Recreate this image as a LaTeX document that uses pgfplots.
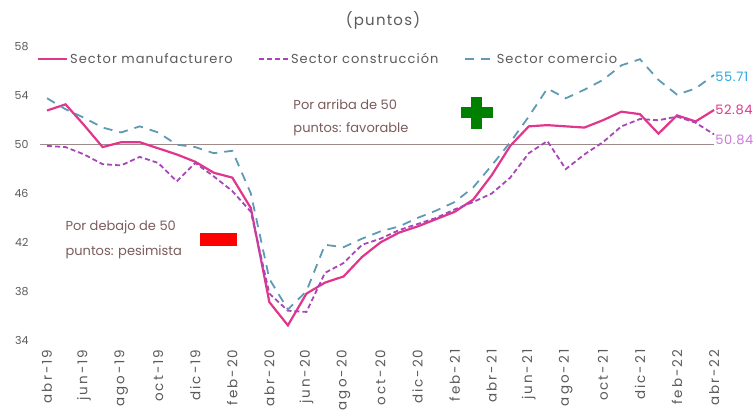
\documentclass[border=0pt]{standalone}
\usepackage{fontspec}
\setmainfont{Poppins}
\usepackage{pgfplots}
\pgfplotsset{compat=1.18}
\usepackage{pgfplotstable}

\definecolor{manuf}{HTML}{E0368C}
\definecolor{constr}{HTML}{A845B8}
\definecolor{comer}{HTML}{5F9AB5}
\definecolor{comerlab}{HTML}{2AA7DE}
\definecolor{constrlab}{HTML}{CC77DD}
\definecolor{txt}{HTML}{5A5A5A}
\definecolor{note}{HTML}{7B5B5B}
\definecolor{ref}{HTML}{9E8A88}

% i = months since abr-19
\pgfplotstableread{
i manuf constr comer
0 52.8 49.9 53.8
1 53.3 49.8 52.9
2 51.6 49.2 52.2
3 49.8 48.4 51.4
4 50.2 48.3 51.0
5 50.2 49.0 51.5
6 49.7 48.5 51.0
7 49.2 47.0 50.0
8 48.6 48.5 49.8
9 47.7 47.4 49.3
10 47.3 46.2 49.5
11 44.8 44.5 46.0
12 37.1 37.8 39.0
13 35.2 36.4 36.5
14 37.8 36.3 38.0
15 38.7 39.5 41.8
16 39.2 40.3 41.6
17 40.8 41.8 42.3
18 42.0 42.3 42.9
19 42.8 43.0 43.3
20 43.3 43.5 44.0
21 43.9 44.0 44.6
22 44.5 44.7 45.3
23 45.5 45.3 46.5
24 47.5 46.0 48.3
25 49.9 47.3 50.2
26 51.5 49.3 52.3
27 51.6 50.3 54.6
28 51.5 48.0 53.8
29 51.4 49.2 54.5
30 52.0 50.2 55.3
31 52.7 51.5 56.5
32 52.5 52.1 57.0
33 50.9 52.0 55.3
34 52.4 52.3 54.1
35 51.9 51.8 54.6
36 52.84 50.84 55.71
}\datatable

\begin{document}
\begin{tikzpicture}
\useasboundingbox (0,0) rectangle (756pt,412pt);
\node[text=txt, font=\fontsize{15}{17}\selectfont\addfontfeature{LetterSpace=8}] at (383pt,392pt) {(puntos)};
\begin{axis}[
    at={(40pt,72pt)}, anchor=south west,
    scale only axis, width=680pt, height=293pt,
    xmin=-0.38, xmax=36.32, ymin=34, ymax=58,
    ytick={34,38,...,58},
    xtick={0,2,...,36},
    xticklabels={abr-19,jun-19,ago-19,oct-19,dic-19,feb-20,abr-20,jun-20,ago-20,oct-20,dic-20,feb-21,abr-21,jun-21,ago-21,oct-21,dic-21,feb-22,abr-22},
    axis line style={draw=none},
    major tick style={draw=none},
    clip=false,
    /pgf/number format/assume math mode=true,
    yticklabel style={text=txt, font=\fontsize{11}{12}\selectfont, xshift=-8pt},
    xticklabel style={text=txt, font=\fontsize{13.5}{14}\selectfont\addfontfeature{LetterSpace=15}, rotate=90, anchor=east},
    xticklabel shift=6pt,
    legend style={at={(-0.0047,0.959)}, anchor=west, draw=none, fill=none,
        legend columns=3, text=txt,
        font=\fontsize{13}{15}\selectfont\addfontfeature{LetterSpace=8},
        /tikz/every even column/.append style={column sep=6pt},
        inner sep=0pt},
    legend image code/.code={\draw[#1] (0pt,0pt) -- (29pt,0pt);},
]
\addplot[ref, line width=1.6pt, forget plot] coordinates {(-0.38,50) (36,50)};
\addplot[manuf, line width=2.2pt] table[x=i, y=manuf] {\datatable};
\addplot[constr, line width=1.8pt, dash pattern=on 5pt off 3pt] table[x=i, y=constr] {\datatable};
\addplot[comer, line width=1.8pt, dash pattern=on 9pt off 7pt] table[x=i, y=comer] {\datatable};
\legend{\makebox[180pt][l]{Sector manufacturero}, \makebox[165pt][l]{Sector construcción}, Sector comercio}

\node[anchor=west, align=left, text=note, font=\fontsize{13}{23}\selectfont] at (axis cs:13.11,52.22) {Por arriba de 50\\puntos: favorable};
\node[anchor=west, align=left, text=note, font=\fontsize{13}{25}\selectfont] at (axis cs:0.81,42.23) {Por debajo de 50\\puntos: pesimista};
\fill[red] (axis cs:8.26,42.76) rectangle (axis cs:10.25,41.70);
\fill[green!50!black] ([xshift=-16pt,yshift=-5.5pt]axis cs:23.2,52.6) rectangle ([xshift=16pt,yshift=5.5pt]axis cs:23.2,52.6);
\fill[green!50!black] ([xshift=-5.5pt,yshift=-16pt]axis cs:23.2,52.6) rectangle ([xshift=5.5pt,yshift=16pt]axis cs:23.2,52.6);

\node[anchor=west, text=comerlab, font=\fontsize{13}{14}\selectfont\addfontfeature{LetterSpace=5}, inner sep=1pt] at (axis cs:36,55.54) {55.71};
\node[anchor=west, text=manuf, font=\fontsize{13}{14}\selectfont\addfontfeature{LetterSpace=5}, inner sep=1pt] at (axis cs:36,52.84) {52.84};
\node[anchor=west, text=constrlab, font=\fontsize{13}{14}\selectfont\addfontfeature{LetterSpace=5}, inner sep=1pt] at (axis cs:36,50.4) {50.84};
\end{axis}
\end{tikzpicture}
\end{document}
